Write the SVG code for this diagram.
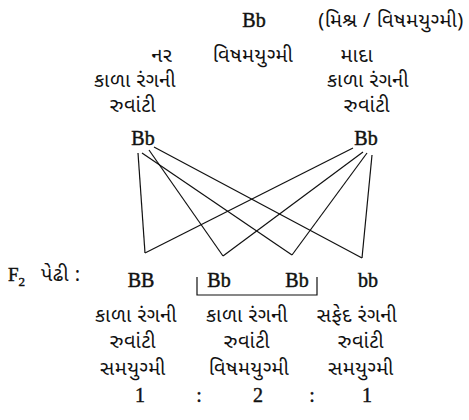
<svg xmlns="http://www.w3.org/2000/svg" width="469" height="420" viewBox="0 0 469 420">
<style>
.l{font-family:"Liberation Serif","DejaVu Serif",serif;font-size:20px;fill:#111;stroke:#111;stroke-width:0.45;text-anchor:middle}
.g{font-family:"Noto Sans Gujarati","Noto Serif Gujarati","Noto Sans",sans-serif;font-size:20px;letter-spacing:0.5px;fill:#111;text-anchor:middle}
.c line,.c path{stroke:#111;stroke-width:1.2;fill:none}
</style>
<rect width="469" height="420" fill="#fff"/>
<g id="header">
<text class="l" x="254" y="27">Bb</text>
<text class="g" x="391" y="27">(મિશ્ર / વિષમયુગ્મી)</text>
<text class="g" x="253" y="62">વિષમયુગ્મી</text>
</g>
<g id="male">
<text class="g" x="162" y="62">નર</text>
<text class="g" x="135" y="87">કાળા રંગની</text>
<text class="g" x="133" y="112">રુવાંટી</text>
<text class="l" x="143" y="145">Bb</text>
</g>
<g id="female">
<text class="g" x="357" y="62">માદા</text>
<text class="g" x="368" y="87">કાળા રંગની</text>
<text class="g" x="367" y="112">રુવાંટી</text>
<text class="l" x="366" y="145">Bb</text>
</g>
<g id="connectors" class="c">
<line x1="138" y1="153" x2="145" y2="253"/>
<line x1="142" y1="153" x2="292" y2="255"/>
<line x1="149" y1="150" x2="223" y2="256"/>
<line x1="154" y1="147" x2="362" y2="258"/>
<line x1="353" y1="148" x2="145" y2="253"/>
<line x1="363" y1="152" x2="223" y2="256"/>
<line x1="367" y1="153" x2="292" y2="255"/>
<line x1="372" y1="155" x2="362" y2="258"/>
<path d="M197 277 V295 H317 V277"/>
</g>
<g id="f2label">
<text x="8" y="281" style="font-family:'Liberation Serif',serif;font-size:19px;fill:#111;stroke:#111;stroke-width:0.45">F<tspan font-size="13" dy="5">2</tspan></text>
<text class="g" x="41" y="281" style="text-anchor:start">પેઢી :</text>
</g>
<g id="BB">
<text class="l" x="141" y="287">BB</text>
<text class="g" x="136" y="322">કાળા રંગની</text>
<text class="g" x="133" y="348">રુવાંટી</text>
<text class="g" x="133" y="375">સમયુગ્મી</text>
<text class="l" x="140" y="402">1</text>
</g>
<g id="Bb">
<text class="l" x="219" y="287">Bb</text>
<text class="l" x="297" y="287">Bb</text>
<text class="g" x="247" y="322">કાળા રંગની</text>
<text class="g" x="247" y="348">રુવાંટી</text>
<text class="g" x="249" y="375">વિષમયુગ્મી</text>
<text class="l" x="258" y="402">2</text>
</g>
<g id="bb">
<text class="l" x="368" y="287">bb</text>
<text class="g" x="357" y="322">સફેદ રંગની</text>
<text class="g" x="361" y="348">રુવાંટી</text>
<text class="g" x="361" y="375">સમયુગ્મી</text>
<text class="l" x="367" y="402">1</text>
</g>
<g id="ratio">
<text class="l" x="199" y="402">:</text>
<text class="l" x="312" y="402">:</text>
</g>
</svg>
